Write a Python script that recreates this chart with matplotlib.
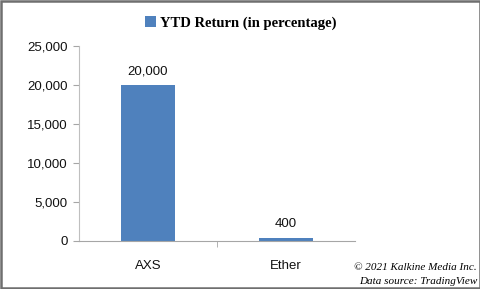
import matplotlib.pyplot as plt
from matplotlib.patches import Rectangle
from matplotlib.ticker import FuncFormatter

categories = ["AXS", "Ether"]
returns = [20000, 400]
yticks = [0, 5000, 10000, 15000, 20000, 25000]
bar_color = "#4F81BD"

fig = plt.figure(figsize=(4.81, 2.89), dpi=100)
ax = fig.add_axes([79/481, 1-240.7/289, 276/481, 195/289])

x = range(len(categories))
bars = ax.bar(x, returns, width=0.39, color=bar_color, label="YTD Return (in percentage)")
for xi, v in zip(x, returns):
    ax.text(xi, v + 1750, f"{v:,}", ha="center", va="center", fontsize=9.5, color="#111111",
            family="Liberation Sans")

ax.set_xlim(-0.5, 1.5)
ax.set_ylim(0, 25000)
ax.set_yticks(yticks)
ax.yaxis.set_major_formatter(FuncFormatter(lambda v, p: f"{int(v):,}"))
ax.set_xticks(list(x))
ax.set_xticklabels(categories)
ax.set_xticks([0.5], minor=True)
ax.tick_params(axis="x", which="major", length=0, pad=14)
ax.tick_params(axis="x", which="minor", length=4, color="#A6A6A6")
ax.tick_params(axis="y", length=4, color="#A6A6A6", pad=4)
for lab in ax.get_xticklabels() + ax.get_yticklabels():
    lab.set_fontsize(9.5)
    lab.set_family("Liberation Sans")
    lab.set_color("#111111")
for s in ["top", "right"]:
    ax.spines[s].set_visible(False)
ax.spines["left"].set_color("#BFBFBF")
ax.spines["bottom"].set_color("#A6A6A6")

fig.legend(loc="center", bbox_to_anchor=(241/481, 1-23/289), frameon=False,
           handlelength=0.7, handleheight=0.7, handletextpad=0.3,
           prop={"family": "Liberation Serif", "weight": "bold", "size": 10.5})

fig.text(477/481, 1-268/289, "© 2021 Kalkine Media Inc.", ha="right", va="center",
         fontsize=8, style="italic", family="Liberation Serif")
fig.text(477/481, 1-281/289, "Data source: TradingView", ha="right", va="center",
         fontsize=8, style="italic", family="Liberation Serif")

fig.patches.append(Rectangle((0.002, 0.003), 0.995, 0.994, transform=fig.transFigure,
                             fill=False, edgecolor="#6F6F6F", linewidth=1.8))

fig.savefig("out.png", dpi=100)
